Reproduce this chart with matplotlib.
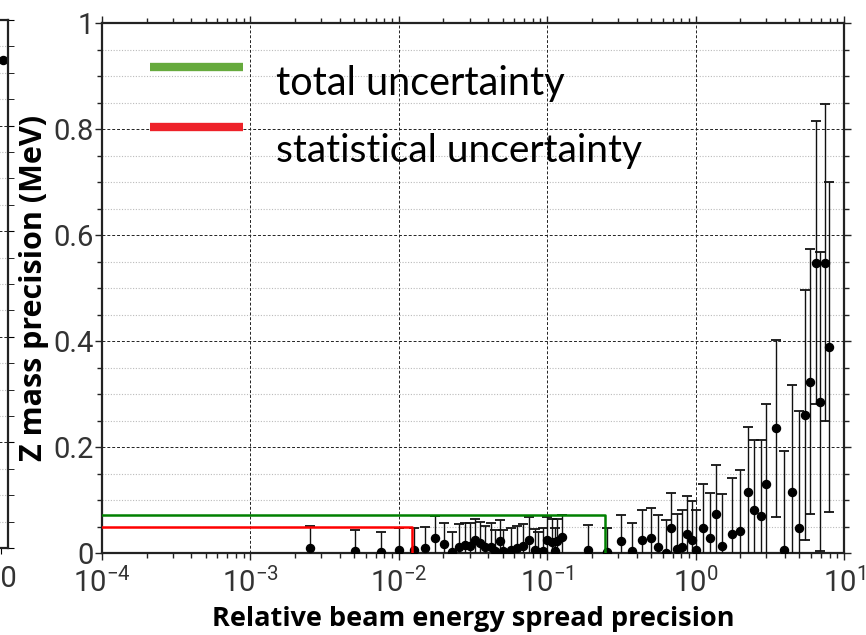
import matplotlib
matplotlib.use("Agg")
import matplotlib.pyplot as plt
import numpy as np
from matplotlib.ticker import FixedLocator, LogLocator, NullFormatter, FixedFormatter

# ---------------- data ----------------
beam_spread = [0.00252, 0.00503, 0.00753, 0.01008, 0.01273, 0.01513, 0.01767, 0.02022,
               0.02284, 0.02537, 0.02772, 0.03019, 0.03272, 0.03526, 0.03838, 0.04180,
               0.04415, 0.04786, 0.05013, 0.05685, 0.06230, 0.06870, 0.07563, 0.08277,
               0.08710, 0.09369, 0.09969, 0.1072, 0.1134, 0.1168, 0.1249, 0.1878, 0.2529,
               0.313, 0.374, 0.437, 0.500, 0.561, 0.628, 0.682, 0.746, 0.810, 0.875,
               0.942, 1.007, 1.128, 1.25, 1.372, 1.506, 1.75, 1.99, 2.244, 2.476, 2.748,
               2.98, 3.48, 3.96, 4.49, 4.98, 5.49, 5.93, 6.48, 6.92, 7.45, 7.89]
mass_prec = [0.0106, 0.0043, 0.0030, 0.0068, 0.0068, 0.0100, 0.0298, 0.0170,
             0.0021, 0.0128, 0.0166, 0.0138, 0.0251, 0.0200, 0.0128, 0.0128,
             0.0034, 0.0232, 0.0034, 0.0062, 0.0109, 0.0138, 0.0260, 0.0062,
             0.0030, 0.0034, 0.0257, 0.0219, 0.0034, 0.0232, 0.0308, 0.0068, 0.0030,
             0.023, 0.004, 0.026, 0.028, 0.011, 0.001, 0.048, 0.008, 0.012, 0.036,
             0.026, 0.006, 0.048, 0.028, 0.075, 0.014, 0.037, 0.043, 0.115, 0.081, 0.070,
             0.130, 0.236, 0.007, 0.115, 0.048, 0.261, 0.324, 0.548, 0.286, 0.548, 0.389]
mass_err = [0.040, 0.039, 0.037, 0.040, 0.040, 0.039, 0.041, 0.040,
            0.039, 0.042, 0.041, 0.044, 0.039, 0.040, 0.039, 0.044,
            0.040, 0.040, 0.041, 0.041, 0.040, 0.042, 0.042, 0.039,
            0.038, 0.044, 0.043, 0.042, 0.045, 0.041, 0.042, 0.046, 0.045,
            0.050, 0.053, 0.055, 0.058, 0.061, 0.061, 0.066, 0.067, 0.069, 0.072,
            0.073, 0.075, 0.083, 0.086, 0.091, 0.097, 0.105, 0.114, 0.124, 0.133, 0.143,
            0.151, 0.167, 0.186, 0.203, 0.220, 0.235, 0.250, 0.267, 0.282, 0.299, 0.312]

stat_edge, stat_value = 0.0122, 0.050
total_edge, total_value = 0.244, 0.0728

legend_labels = ["total uncertainty", "statistical uncertainty"]
y_ticks = [0, 0.2, 0.4, 0.6, 0.8, 1.0]
y_tick_labels = ["0", "0.2", "0.4", "0.6", "0.8", "1"]
x_ticks = [1e-4, 1e-3, 1e-2, 1e-1, 1e0, 1e1]
x_tick_labels = [r"$10^{-4}$", r"$10^{-3}$", r"$10^{-2}$", r"$10^{-1}$", r"$10^{0}$", r"$10^{1}$"]

# neighbour panel (cropped)
left_x = [10.04]
left_y = [0.924]

# ---------------- style ----------------
plt.rcParams['mathtext.default'] = 'regular'
tick_font = 'Roboto'
tick_color = '#333333'

fig = plt.figure(figsize=(8.66, 6.35), dpi=100)
W, H = 866, 635
L, R, T, B = 102, 844, 23.3, 553.3
ax = fig.add_axes([L / W, (H - B) / H, (R - L) / W, (B - T) / H])

ax.set_xscale('log')
ax.set_xlim(1e-4, 1e1)
ax.set_ylim(0, 1)

# grid
for yv in np.arange(0.05, 1.0, 0.05):
    if abs(yv / 0.2 - round(yv / 0.2)) < 1e-6:
        ax.axhline(yv, color='#222222', lw=0.7, ls=(0, (3, 2)), zorder=1)
    else:
        ax.axhline(yv, color='#bbbbbb', lw=0.8, ls=(0, (1, 1.5)), zorder=1)
for xv in x_ticks[1:-1]:
    ax.axvline(xv, color='#222222', lw=0.7, ls=(0, (3, 2)), zorder=1)

# step lines
ax.plot([1e-4, total_edge, total_edge], [total_value, total_value, 0], color='#008000', lw=1.8, zorder=4)
ax.plot([1e-4, stat_edge, stat_edge], [stat_value, stat_value, 0], color='#ff0000', lw=1.8, zorder=4)

# data
ax.errorbar(beam_spread, mass_prec, yerr=mass_err, fmt='o', color='black', ms=5.8,
            ecolor='#111111', elinewidth=1.0, capsize=3.5, capthick=1.3, zorder=3)

# legend (drawn manually)
ax.plot([0.065, 0.19], [0.9175, 0.9175], transform=ax.transAxes, color='#66aa3d', lw=6,
        solid_capstyle='butt', zorder=5)
ax.plot([0.065, 0.19], [0.804, 0.804], transform=ax.transAxes, color='#ee2229', lw=6,
        solid_capstyle='butt', zorder=5)
ax.text(0.234, 0.8647, legend_labels[0], transform=ax.transAxes, fontsize=28.5, family='Lato',
        va='baseline', ha='left', color='black', zorder=5)
ax.text(0.234, 0.738, legend_labels[1], transform=ax.transAxes, fontsize=28, family='Lato',
        va='baseline', ha='left', color='black', zorder=5)

# ticks
ax.xaxis.set_major_locator(FixedLocator(x_ticks))
ax.xaxis.set_major_formatter(FixedFormatter(x_tick_labels))
ax.xaxis.set_minor_locator(LogLocator(base=10, subs=np.arange(2, 10), numticks=20))
ax.xaxis.set_minor_formatter(NullFormatter())
ax.yaxis.set_major_locator(FixedLocator(y_ticks))
ax.yaxis.set_major_formatter(FixedFormatter(y_tick_labels))
ax.yaxis.set_minor_locator(FixedLocator(np.arange(0.05, 1.0, 0.05)))

ax.tick_params(which='both', direction='out', top=True, right=True, color='#222222')
ax.tick_params(which='major', length=5, width=1.0, labelcolor=tick_color)
ax.tick_params(axis='x', which='major', labelsize=21, pad=5)
ax.tick_params(axis='y', which='major', labelsize=21, pad=1)
ax.tick_params(which='minor', length=3.5, width=1.0)
for lab in ax.get_xticklabels() + ax.get_yticklabels():
    lab.set_family(tick_font)
for s in ax.spines.values():
    s.set_linewidth(1.6)
    s.set_color('#222222')

ax.set_xlabel("Relative beam energy spread precision", fontsize=19.5, fontweight='bold',
              family='Open Sans', labelpad=6)
ax.set_ylabel("Z mass precision (MeV)", fontsize=22, fontweight='bold',
              family='Open Sans', labelpad=3)

# cropped neighbour panel on the far left
ax0 = fig.add_axes([(8 - 400) / W, (H - 548) / H, 400 / W, 528 / H])
ax0.set_xlim(0, 10.17)
ax0.set_ylim(0, 1)
for yv in np.arange(0.05, 1.0, 0.05):
    if abs(yv / 0.2 - round(yv / 0.2)) < 1e-6:
        ax0.axhline(yv, color='#222222', lw=0.7, ls=(0, (3, 2)))
    else:
        ax0.axhline(yv, color='#bbbbbb', lw=0.8, ls=(0, (1, 1.5)))
ax0.plot(left_x, left_y, 'o', color='black', ms=5.8, clip_on=False)
ax0.set_xticks([10])
ax0.set_xticklabels(["10"])
ax0.set_yticks(y_ticks)
ax0.set_yticklabels([])
ax0.yaxis.set_minor_locator(FixedLocator(np.arange(0.05, 1.0, 0.05)))
ax0.tick_params(which='both', direction='out', right=True, labelsize=21, labelcolor=tick_color,
                length=4, pad=8)
for lab in ax0.get_xticklabels():
    lab.set_family(tick_font)
for s in ax0.spines.values():
    s.set_linewidth(1.6)
    s.set_color('#222222')

fig.savefig("out.png", dpi=100)
